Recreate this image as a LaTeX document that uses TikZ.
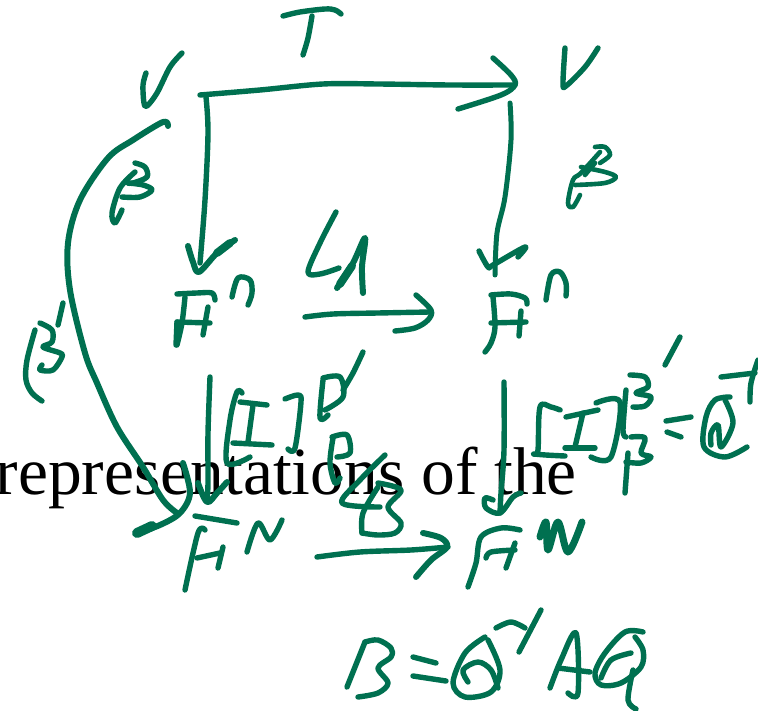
\documentclass[tikz,border=0pt]{standalone}
\usepackage{fontspec}
\setmainfont{Liberation Serif}
\definecolor{inkgreen}{HTML}{007050}
\tikzset{
  inkline/.style={draw=inkgreen,line width=5.4pt,line cap=round,line join=round},
  heavy/.style={line width=8pt},
  overtext/.style={font=\fontsize{67.5}{67.5}\selectfont,inner sep=0pt,anchor=base east,text=black}
}
\newcommand\ink[2][]{\draw[inkline,#1] plot[smooth,tension=0.55] coordinates {#2};}
\begin{document}
\begin{tikzpicture}[x=1pt,y=-1pt]
\useasboundingbox (0,0) rectangle (758,711);
\clip (0,0) rectangle (758,711);
\node[overtext] (overlay) at (577,494) {representations of the};
% T
\ink{(283,16)(300,12)(325,9)(335,10)(341,14)}
\ink{(312,16)(308,38)(303,55)}
% V left
\ink{(146,73)(143,85)(144,103)(147,106)(157,93)(170,67)(182,53)}
% T arrow
\ink{(200,95)(260,90)(323,84)(378,84)(450,85)(515,85)}
\ink{(493,58)(511,75)(515,85)(501,95)(458,109)}
% left down arrow
\ink{(206,97)(208,133)(205,200)(200,263)}
\ink[line width=6pt]{(188,246)(193,262)(199,272)(217,253)(235,240)}
\ink[heavy]{(217,253)(230,243)}
% beta prime curve
\ink[line width=6pt]{(168,126)(163,122)(133,140)(108,158)(80,200)(68,243)(70,290)(85,353)(97,383)(117,427)(143,467)(163,500)(177,513)}
\ink[line width=6pt]{(183,463)(190,493)(180,513)(160,525)(137,533)}
\ink[line width=10pt]{(137,533)(152,526)}
% beta
\ink{(135,163)(145,167)(147,177)(133,183)(128,183)}
\ink{(135,172)(120,188)(112,213)(115,223)(122,210)}
\ink{(122,197)(140,197)(152,190)(143,185)(128,183)}
% F^n left
\ink{(177,294)(197,293)(212,293)(215,300)}
\ink{(185,297)(182,323)(177,345)}
\ink{(177,322)(176,345)}
\ink{(177,322)(210,323)}
\ink{(208,307)(203,335)}
\ink{(232,297)(238,278)(250,280)(252,293)(248,305)}
% LA
\ink{(336,212)(320,243)(308,272)(320,274)(339,268)}
\ink[line width=6pt]{(337,288)(353,263)(365,238)(362,267)(363,293)}
\ink[heavy]{(340,284)(352,266)}
% LA arrow
\ink{(305,317)(333,314)(378,313)(430,312)}
\ink{(416,295)(431,310)(428,320)(415,328)(395,331)}
% V right
\ink{(565,48)(563,83)(566,86)(585,67)(598,48)}
% right down arrow
\ink[line width=5pt]{(510,103)(511,140)(505,197)(497,233)(495,275)}
\ink{(479,251)(488,267)(493,265)(525,247)(518,257)}
% beta right
\ink[line width=4.6pt]{(595,147)(605,147)(610,155)(600,163)}
\ink[line width=4.6pt]{(600,152)(581,173)(573,180)(568,203)(573,207)(580,195)}
\ink[line width=4.6pt]{(575,185)(605,183)(616,177)(605,172)(581,167)}
\ink[line width=4.6pt]{(585,175)(595,163)}
% F^n right
\ink{(491,295)(511,294)(525,298)(527,304)}
\ink{(493,297)(495,327)(491,343)(485,352)}
\ink{(491,323)(526,322)}
\ink{(521,311)(519,336)}
\ink{(546,300)(551,275)(560,272)(566,283)(566,296)}
% primes
\ink{(680,337)(665,365)}
\ink{(63,303)(58,325)}
% beta prime label
\ink{(40,323)(52,330)(52,342)(43,347)(60,353)(62,357)(53,370)(40,370)(42,365)}
\ink{(35,330)(27,360)(26,380)(32,393)(42,401)}
% middle left arrow
\ink{(210,377)(208,433)(208,483)(207,500)}
\ink[line width=6pt]{(198,483)(207,502)(217,493)(227,482)}
% [I] left
\ink{(242,393)(237,392)(230,420)(227,463)(250,457)}
\ink{(240,402)(267,405)}
\ink{(253,405)(248,442)}
\ink{(233,443)(272,445)}
\ink{(285,399)(298,395)(301,402)(295,448)(288,449)}
% B' super
\ink{(363,352)(353,373)(343,390)}
\ink{(323,378)(340,377)(343,397)(325,410)}
\ink{(323,380)(320,418)(328,415)}
% B sub
\ink{(332,437)(347,435)(350,453)(337,457)}
\ink{(333,438)(330,463)(335,483)(340,478)}
% LB
\ink{(385,455)(360,480)(342,503)(380,507)}
\ink{(378,483)(401,490)(388,507)(401,523)(395,533)(378,535)(362,533)}
\ink{(378,487)(363,513)(362,533)}
% F^N left
\ink{(195,516)(237,523)}
\ink{(205,530)(198,533)(185,590)}
\ink{(197,558)(220,553)}
\ink{(223,547)(218,568)}
\ink{(247,552)(258,523)(270,540)(282,520)}
% LB arrow
\ink{(317,557)(360,552)(411,550)(448,547)}
\ink[line width=6pt]{(423,533)(441,538)(447,547)(431,560)(416,577)}
% middle right arrow
\ink{(504,382)(504,450)(501,493)(500,513)}
\ink{(521,493)(513,497)(500,513)(486,508)(485,498)(493,500)}
% [I] right
\ink{(560,410)(551,407)(540,407)(538,450)(535,454)(565,456)}
\ink{(566,417)(598,410)}
\ink{(583,413)(575,447)}
\ink{(565,448)(595,448)}
\ink{(596,403)(620,402)(611,457)(591,457)}
\ink{(630,375)(645,377)(648,387)(636,393)(651,397)(645,406)(633,407)}
\ink{(626,390)(623,430)(626,437)}
\ink{(631,437)(645,438)(641,453)(651,457)(641,463)(626,462)}
\ink{(628,453)(625,493)}
% = Q^-1
\ink{(666,421)(691,417)}
\ink{(667,432)(681,437)}
\ink{(730,397)(715,400)(706,417)(704,447)(725,457)(747,447)}
\ink{(725,400)(733,423)(721,447)(718,425)(711,433)(711,445)}
\ink{(721,377)(755,373)}
\ink{(758,360)(751,383)(750,402)}
% F^N right
\ink{(520,530)(501,528)(481,537)(476,563)(468,587)}
\ink{(486,558)(491,552)(515,550)}
\ink{(515,543)(506,568)}
\ink[line width=7pt]{(540,537)(546,522)(548,550)(558,522)(568,552)(582,522)}
% B = Q^-1 A Q
\ink{(365,642)(347,687)}
\ink{(365,642)(378,640)(391,648)(391,657)(378,668)(388,683)(378,693)(358,697)}
\ink{(413,657)(436,663)}
\ink{(413,676)(446,681)}
\ink{(485,637)(465,653)(453,683)(465,697)(491,692)(500,670)(488,640)}
\ink{(468,682)(463,670)(478,662)(491,670)(498,688)}
\ink{(496,628)(511,622)(525,628)}
\ink{(541,610)(519,652)}
\ink{(550,688)(561,660)(576,633)(578,693)(568,693)}
\ink{(558,668)(590,672)}
\ink{(643,632)(625,632)(605,653)(595,673)(601,685)(621,683)(641,667)(643,650)(635,637)}
\ink{(601,678)(611,660)(631,653)}
\ink{(633,670)(628,700)(636,709)}
\end{tikzpicture}
\end{document}
